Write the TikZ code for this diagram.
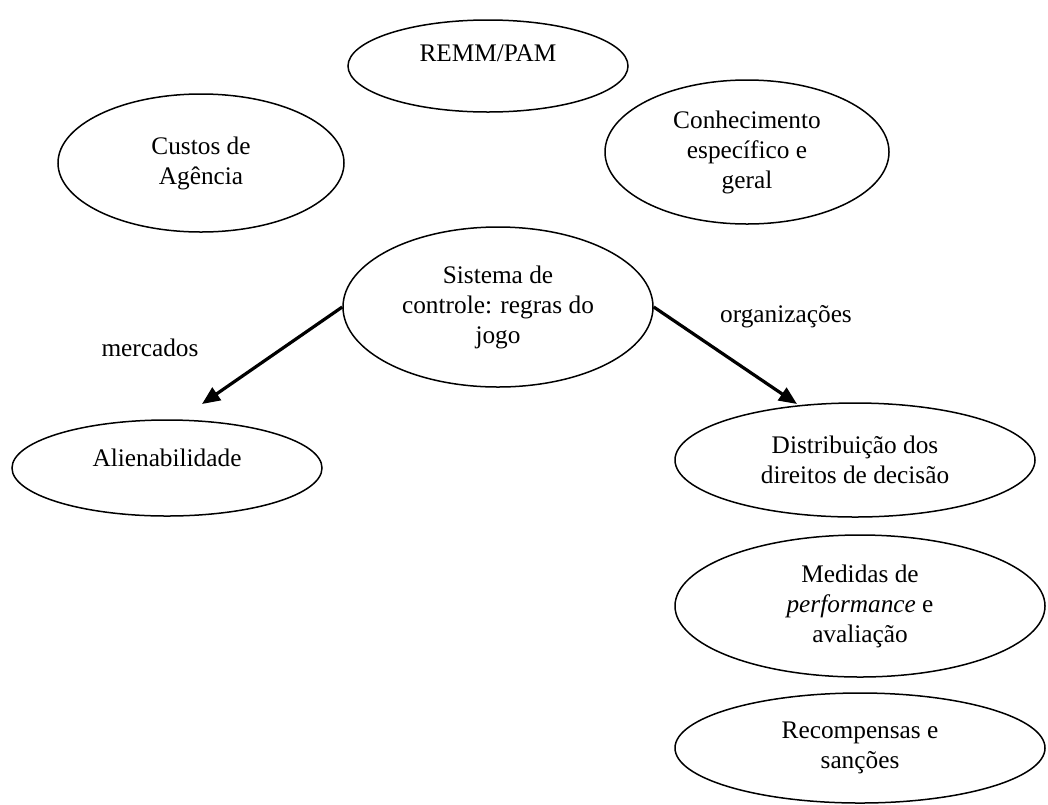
\documentclass[tikz,border=0pt]{standalone}
\usepackage{fontspec}
\setmainfont{Liberation Serif}
\usetikzlibrary{shapes.geometric,arrows.meta}
\begin{document}
\begin{tikzpicture}[x=0.5pt,y=-0.5pt,font=\fontsize{12.65}{15}\selectfont,
  bubble/.style={draw,ellipse,line width=0.75pt,inner sep=0pt,align=center},
  arr/.style={line width=1.6pt,-{Triangle[length=9pt,width=7.5pt]}}]
\useasboundingbox (0,0) rectangle (1048,804);
\node[bubble,minimum width=140pt,minimum height=46pt,text depth=13pt] (remm) at (488,66) {REMM/PAM};
\node[bubble,minimum width=143pt,minimum height=69pt] (custos) at (201,163) {Custos de\\Agência};
\node[bubble,minimum width=142pt,minimum height=72pt] (conh) at (747,152) {Conhecimento\\específico e\\geral};
\node[bubble,minimum width=155pt,minimum height=80pt] (sis) at (498,307) {Sistema de\\controle: regras do\\jogo};
\node[bubble,minimum width=155pt,minimum height=48pt,text depth=10pt] (alien) at (167,468) {Alienabilidade};
\node[bubble,minimum width=180pt,minimum height=57pt] (dist) at (855,460) {Distribuição dos\\direitos de decisão};
\node[bubble,minimum width=185pt,minimum height=71pt] (med) at (860,606) {Medidas de\\\textit{performance} e\\avaliação};
\node[bubble,minimum width=185pt,minimum height=55pt] (rec) at (860,748) {Recompensas e\\sanções};
\node (merc) at (150,348) {mercados};
\node (org) at (786,317) {organizações};
\coordinate (mtip) at (202,404);
\coordinate (otip) at (797,404);
\draw[arr] (sis.west) -- (mtip);
\draw[arr] (sis.east) -- (otip);
\end{tikzpicture}
\end{document}
